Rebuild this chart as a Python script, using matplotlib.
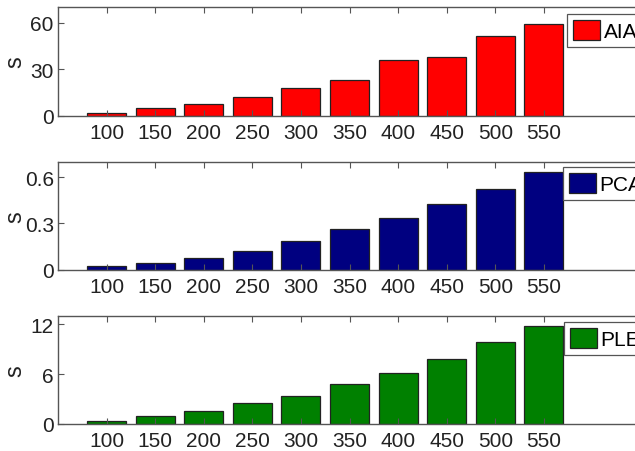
import matplotlib
matplotlib.use('Agg')
import matplotlib.pyplot as plt
from matplotlib import font_manager

sizes = [100, 150, 200, 250, 300, 350, 400, 450, 500, 550]
aia = [2.0, 5.2, 7.8, 12.4, 18.2, 23.0, 35.8, 37.7, 51.3, 59.1]
pca = [0.022, 0.041, 0.074, 0.119, 0.188, 0.263, 0.335, 0.427, 0.52, 0.635]
plel = [0.39, 0.91, 1.58, 2.49, 3.36, 4.75, 6.09, 7.84, 9.82, 11.8]

labels = ['AIA', 'PCA', 'PLEL']
colors = ['#ff0000', '#000080', '#008000']
yticks = [[0, 30, 60], [0, 0.3, 0.6], [0, 6, 12]]
yticklabels = [['0', '30', '60'], ['0', '0.3', '0.6'], ['0', '6', '12']]
ylims = [70, 0.7, 13]

names = {f.name for f in font_manager.fontManager.ttflist}
fam = 'Liberation Sans Narrow' if 'Liberation Sans Narrow' in names else 'Liberation Sans'
plt.rcParams['font.family'] = [fam, 'DejaVu Sans']

fig = plt.figure(figsize=(6.35, 4.52), dpi=100)
W, H = 635.0, 452.0
left = 58 / W
width = (641 - 58) / W
# (top px, bottom px) of each axes
boxes = [(8, 117), (162.7, 270.7), (316.7, 425)]
legend_tops = [15, 168, 323]
legend_lefts = [567, 563, 564]

for i, data in enumerate([aia, pca, plel]):
    top, bot = boxes[i]
    ax = fig.add_axes([left, 1 - bot / H, width, (bot - top) / H])
    ax.bar(sizes, data, width=40, color=colors[i], edgecolor='#222222',
           linewidth=0.9, label=labels[i])
    ax.set_xlim(50, 650)
    ax.set_ylim(0, ylims[i])
    ax.set_xticks(sizes)
    ax.set_xticklabels([str(s) for s in sizes])
    ax.set_yticks(yticks[i])
    ax.set_yticklabels(yticklabels[i])
    ax.tick_params(direction='in', length=4.5, width=0.8, color='#555555',
                   top=True, right=True, labelsize=15, labelcolor='#222222')
    ax.tick_params(axis='x', pad=5)
    ax.tick_params(axis='y', pad=3)
    for sp in ax.spines.values():
        sp.set_color('#555555')
        sp.set_linewidth(1.0)
    ax.set_ylabel('s', fontsize=17, color='#222222', family='Liberation Sans')
    ax.yaxis.set_label_coords(-0.055, 0.5)
    lx = (legend_lefts[i] - 58) / (641 - 58)
    ly = (bot - legend_tops[i]) / (bot - top)
    leg = ax.legend(loc='upper left', bbox_to_anchor=(lx, ly), borderaxespad=0,
                    fontsize=15, handlelength=1.3, handleheight=1.05,
                    handletextpad=0.15, borderpad=0.3, fancybox=False,
                    framealpha=1, edgecolor='#555555')
    leg.get_frame().set_linewidth(0.9)

fig.savefig('out.png', dpi=100)
